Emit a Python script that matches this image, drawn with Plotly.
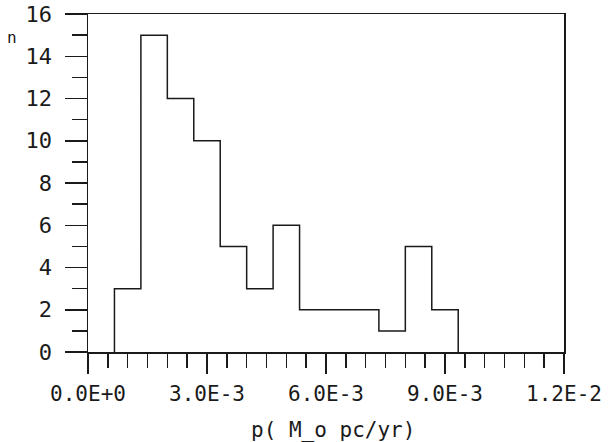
import plotly.graph_objects as go

# Histogram data (bins of equal width starting one bin above zero)
bin_width = 0.012 / 18
first_bin_index = 1
counts = [3, 15, 12, 10, 5, 3, 6, 2, 2, 2, 1, 5, 2]

x_tick_vals = [0.0, 0.003, 0.006, 0.009, 0.012]
x_tick_text = ["0.0E+0", "3.0E-3", "6.0E-3", "9.0E-3", "1.2E-2"]
y_tick_vals = [0, 2, 4, 6, 8, 10, 12, 14, 16]

x_title = "p( M_o pc/yr)"
y_title = "n"

edges = [(first_bin_index + k) * bin_width for k in range(len(counts) + 1)]
xs = [edges[0]] + edges
ys = [0] + counts + [0]

FONT = "DejaVu Sans Mono"
INK = "#1a1a1a"

fig = go.Figure()
fig.add_trace(go.Scatter(x=xs, y=ys, mode="lines", line=dict(shape="hv", color=INK, width=1.5),
                         hoverinfo="skip", showlegend=False))

fig.update_layout(
    width=611, height=442,
    margin=dict(l=88, r=47, t=14, b=90, autoexpand=False),
    paper_bgcolor="white", plot_bgcolor="white",
    font=dict(family=FONT, color=INK, size=20),
    showlegend=False,
    annotations=[
        dict(text=y_title, xref="paper", yref="paper", x=-0.16, y=0.93,
             xanchor="center", yanchor="middle", showarrow=False,
             font=dict(family=FONT, size=16, color=INK)),
        dict(text=x_title, xref="paper", yref="paper", x=0.515, y=-0.232,
             xanchor="center", yanchor="middle", showarrow=False,
             font=dict(family=FONT, size=21, color=INK)),
    ],
)

fig.update_xaxes(
    range=[0, 0.012], showgrid=False, zeroline=False, automargin=False,
    showline=True, linecolor=INK, linewidth=1.5, mirror=True,
    ticks="outside", ticklen=20, tickwidth=1.5, tickcolor=INK,
    tickvals=x_tick_vals, ticktext=x_tick_text,
    tickfont=dict(family=FONT, size=21, color=INK),
    ticklabelstandoff=2,
    minor=dict(ticks="outside", ticklen=14, tickwidth=1.5, tickcolor=INK, dtick=0.0005, tick0=0, showgrid=False),
)
fig.update_yaxes(
    range=[0, 16], showgrid=False, zeroline=False, automargin=False,
    showline=True, linecolor=INK, linewidth=1.5, mirror=True,
    ticks="outside", ticklen=22, tickwidth=1.5, tickcolor=INK,
    tickvals=y_tick_vals,
    tickfont=dict(family=FONT, size=22, color=INK),
    ticklabelstandoff=8,
    minor=dict(ticks="outside", ticklen=15, tickwidth=1.5, tickcolor=INK, dtick=1, tick0=0, showgrid=False),
)

fig.write_html(
    "out.html",
    config={"displayModeBar": False, "staticPlot": True},
    post_script="document.body.style.margin='0';document.body.style.padding='0';",
)
